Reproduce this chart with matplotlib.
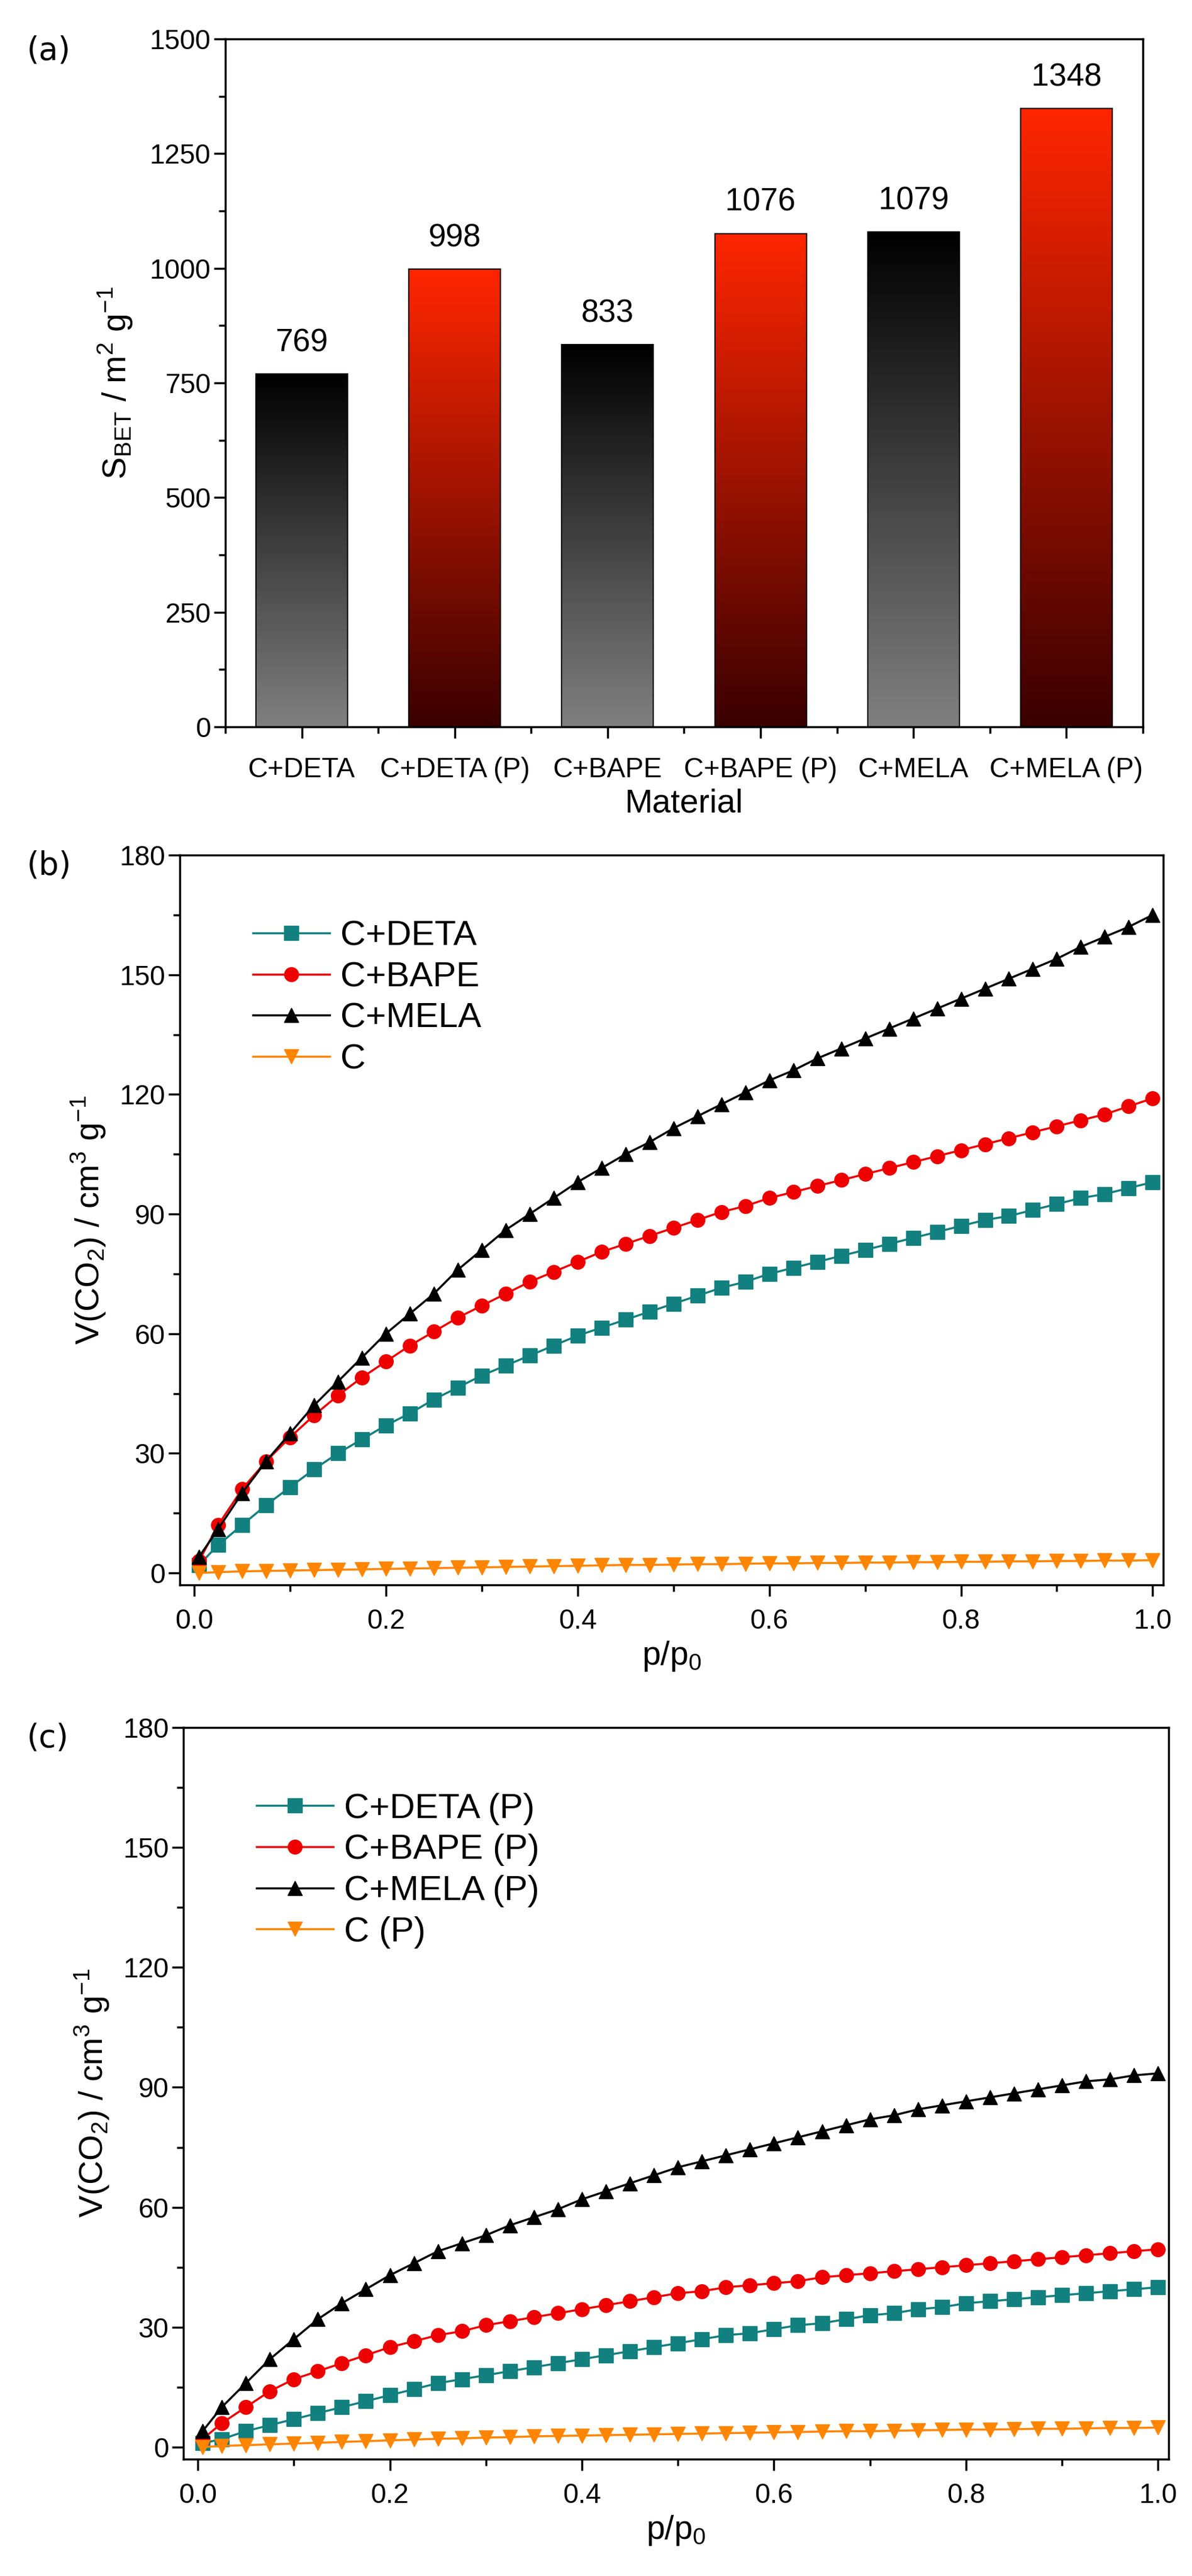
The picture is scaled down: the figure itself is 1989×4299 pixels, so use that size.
import numpy as np
import matplotlib
matplotlib.use("Agg")
import matplotlib.pyplot as plt
from matplotlib.colors import LinearSegmentedColormap
from matplotlib.ticker import MultipleLocator, AutoMinorLocator

plt.rcParams["font.family"] = ["Liberation Sans Narrow", "Liberation Sans", "DejaVu Sans"]

# ---- data ----
materials = ["C+DETA", "C+DETA (P)", "C+BAPE", "C+BAPE (P)", "C+MELA", "C+MELA (P)"]
s_bet = [769, 998, 833, 1076, 1079, 1348]

p_rel = [0.005, 0.025, 0.05, 0.075, 0.1, 0.125, 0.15, 0.175, 0.2, 0.225, 0.25, 0.275, 0.3,
         0.325, 0.35, 0.375, 0.4, 0.425, 0.45, 0.475, 0.5, 0.525, 0.55, 0.575, 0.6, 0.625,
         0.65, 0.675, 0.7, 0.725, 0.75, 0.775, 0.8, 0.825, 0.85, 0.875, 0.9, 0.925, 0.95,
         0.975, 1.0]

deta = [2, 7, 12, 17, 21.5, 26, 30, 33.5, 37, 40, 43.5, 46.5, 49.5, 52, 54.5, 57, 59.5, 61.5,
        63.5, 65.5, 67.5, 69.5, 71.5, 73, 75, 76.5, 78, 79.5, 81, 82.5, 84, 85.5, 87, 88.5,
        89.5, 91, 92.5, 94, 95, 96.5, 98]
bape = [3, 12, 21, 28, 34, 39.5, 44.5, 49, 53, 57, 60.5, 64, 67, 70, 73, 75.5, 78, 80.5, 82.5,
        84.5, 86.5, 88.5, 90.5, 92, 94, 95.5, 97, 98.5, 100, 101.5, 103, 104.5, 106, 107.5,
        109, 110.5, 112, 113.5, 115, 117, 119]
mela = [4, 11, 20, 28, 35, 42, 48, 54, 60, 65, 70, 76, 81, 86, 90, 94, 98, 101.5, 105, 108,
        111.5, 114.5, 117.5, 120.5, 123.5, 126, 129, 131.5, 134, 136.5, 139, 141.5, 144,
        146.5, 149, 151.5, 154, 157, 159.5, 162, 165]
carbon = [0, 0.2, 0.4, 0.5, 0.6, 0.7, 0.8, 0.9, 1.0, 1.1, 1.2, 1.3, 1.4, 1.5, 1.6, 1.7, 1.8,
          1.9, 2.0, 2.0, 2.1, 2.2, 2.2, 2.3, 2.4, 2.4, 2.5, 2.5, 2.6, 2.6, 2.7, 2.7, 2.8, 2.8,
          2.9, 2.9, 3.0, 3.0, 3.1, 3.1, 3.2]

deta_p = [1, 2, 4, 5.5, 7, 8.5, 10, 11.5, 13, 14.5, 16, 17, 18, 19, 20, 21, 22, 23, 24, 25,
          26, 27, 28, 28.5, 29.5, 30.5, 31, 32, 33, 33.5, 34.5, 35, 36, 36.5, 37, 37.5, 38,
          38.5, 39, 39.5, 40]
bape_p = [2, 6, 10, 14, 17, 19, 21, 23, 25, 26.5, 28, 29, 30.5, 31.5, 32.5, 33.5, 34.5, 35.5,
          36.5, 37.5, 38.5, 39, 40, 40.5, 41, 41.5, 42.5, 43, 43.5, 44, 44.5, 45, 45.5, 46,
          46.5, 47, 47.5, 48, 48.5, 49, 49.5]
mela_p = [4, 10, 16, 22, 27, 32, 36, 39.5, 43, 46, 49, 51, 53, 55.5, 57.5, 59.5, 62, 64, 66,
          68, 70, 71.5, 73, 74.5, 76, 77.5, 79, 80.5, 82, 83, 84.5, 85.5, 86.5, 87.5, 88.5,
          89.5, 90.5, 91.5, 92, 93, 93.5]
carbon_p = [0, 0.3, 0.5, 0.7, 0.9, 1.1, 1.3, 1.5, 1.7, 1.9, 2.1, 2.2, 2.4, 2.5, 2.7, 2.8,
            2.9, 3.0, 3.1, 3.2, 3.3, 3.4, 3.5, 3.6, 3.7, 3.8, 3.9, 4.0, 4.0, 4.1, 4.2, 4.3,
            4.4, 4.4, 4.5, 4.6, 4.6, 4.7, 4.8, 4.8, 4.9]

TICK = 33
LAB = 40

fig = plt.figure(figsize=(19.9, 42.99), dpi=100)
W, H = 1990, 4299


def add_ax(l, t, r, b):
    return fig.add_axes([l / W, 1 - b / H, (r - l) / W, (b - t) / H])


def style(ax):
    for s in ax.spines.values():
        s.set_linewidth(2.5)
    ax.tick_params(which="both", direction="out", width=2.5, labelsize=TICK,
                   top=False, right=False)
    ax.tick_params(which="major", length=14)
    ax.tick_params(which="minor", length=8)


# ---- (a) bar chart ----
ax = add_ax(376, 65, 1907, 1213)
grey = LinearSegmentedColormap.from_list("g", ["#808080", "#000000"])
red = LinearSegmentedColormap.from_list("r", ["#3a0000", "#ff2600"])
bars = ax.bar(range(len(materials)), s_bet, width=0.6, color="none", edgecolor="black",
              linewidth=1.5, zorder=3)
grad = np.linspace(0, 1, 256).reshape(-1, 1)
for i, (b, v) in enumerate(zip(bars, s_bet)):
    x0 = b.get_x()
    im = ax.imshow(grad, cmap=red if i % 2 else grey, aspect="auto", origin="lower",
                   extent=[x0, x0 + b.get_width(), 0, v], zorder=2)
    im.set_clip_path(b)
    ax.text(i, v + 35, str(v), ha="center", va="bottom", fontsize=38)
ax.set_xlim(-0.5, 5.5)
ax.set_ylim(0, 1500)
ax.set_xticks(range(len(materials)))
ax.set_xticklabels(materials)
ax.xaxis.set_minor_locator(MultipleLocator(0.5))
ax.yaxis.set_major_locator(MultipleLocator(250))
ax.yaxis.set_minor_locator(MultipleLocator(125))
style(ax)
ax.tick_params(axis="x", which="major", pad=22)
ax.set_xlabel("Material", fontsize=LAB, labelpad=6)
ax.set_ylabel(r"S$_{\mathregular{BET}}$ / m$^{\mathregular{2}}$ g$^{\mathregular{-1}}$", fontsize=LAB, labelpad=18)
fig.text(45 / W, 1 - 100 / H, "(a)", fontsize=38, family="DejaVu Sans")


def isotherm(ax, series, labels):
    specs = [("#12807f", "s"), ("#ee0000", "o"), ("black", "^"), ("#ff8500", "v")]
    for y, lab, (c, m) in zip(series, labels, specs):
        ax.plot(p_rel, y, color=c, marker=m, markersize=17, linewidth=2.5, label=lab,
                clip_on=False, zorder=3)
    ax.set_xlim(-0.015, 1.011)
    ax.set_ylim(-3, 180)
    ax.xaxis.set_major_locator(MultipleLocator(0.2))
    ax.xaxis.set_minor_locator(MultipleLocator(0.1))
    ax.yaxis.set_major_locator(MultipleLocator(30))
    ax.yaxis.set_minor_locator(MultipleLocator(15))
    ax.xaxis.set_major_formatter(matplotlib.ticker.FormatStrFormatter("%.1f"))
    style(ax)
    ax.tick_params(axis="x", which="major", pad=14)
    ax.set_xlabel(r"p/p$_{\mathregular{0}}$", fontsize=LAB, labelpad=6)
    ax.set_ylabel(r"V(CO$_{\mathregular{2}}$) / cm$^{\mathregular{3}}$ g$^{\mathregular{-1}}$",
                  fontsize=LAB, labelpad=14)
    ax.legend(loc="upper left", bbox_to_anchor=(0.06, 0.93), frameon=False, fontsize=42,
              handlelength=2.2, labelspacing=0.25, handletextpad=0.3, borderaxespad=0)


# ---- (b) ----
axb = add_ax(300, 1427, 1941, 2645)
isotherm(axb, [deta, bape, mela, carbon], ["C+DETA", "C+BAPE", "C+MELA", "C"])
fig.text(45 / W, 1 - 1460 / H, "(b)", fontsize=38, family="DejaVu Sans")

# ---- (c) ----
axc = add_ax(306, 2883, 1950, 4104)
isotherm(axc, [deta_p, bape_p, mela_p, carbon_p],
         ["C+DETA (P)", "C+BAPE (P)", "C+MELA (P)", "C (P)"])
fig.text(45 / W, 1 - 2915 / H, "(c)", fontsize=38, family="DejaVu Sans")

fig.savefig("out.png", dpi=100)
